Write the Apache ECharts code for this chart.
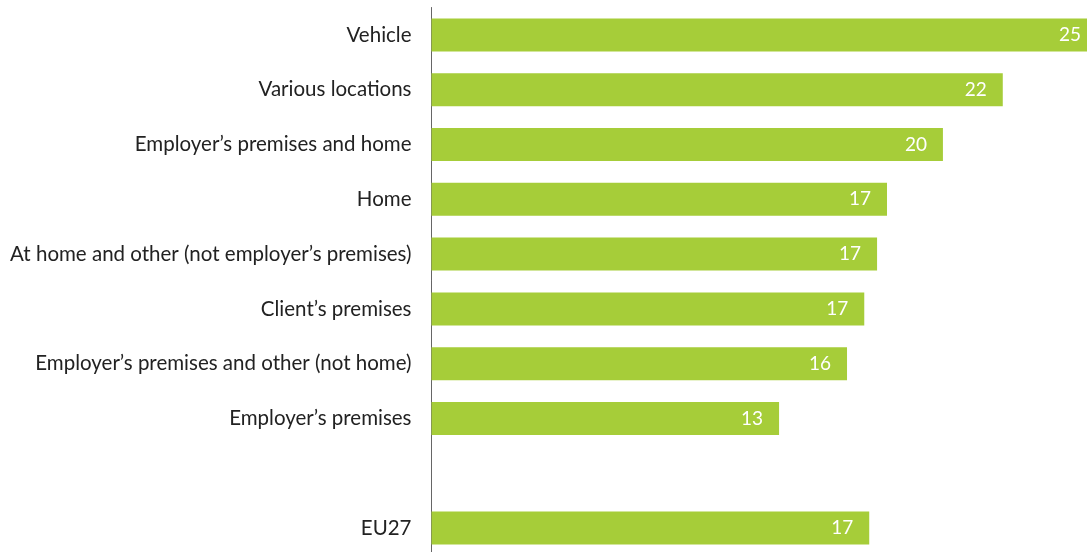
<!DOCTYPE html>
<html>
<head>
<meta charset="utf-8">
<script src="https://cdn.jsdelivr.net/npm/echarts@6/dist/echarts.min.js"></script>
<style>html,body{margin:0;padding:0;background:#fff;}#c{width:1087px;height:552px;}</style>
</head>
<body>
<div id="c"></div>
<script>
const categories = ["Vehicle", "Various locations", "Employer\u2019s premises and home", "Home", "At home and other (not employer\u2019s premises)", "Client\u2019s premises", "Employer\u2019s premises and other (not home)", "Employer\u2019s premises", "", "EU27"];
const values = [25.47, 21.86, 19.57, 17.43, 17.05, 16.56, 15.90, 13.30, null, 16.75];

const chart = echarts.init(document.getElementById('c'));
chart.setOption({
  animation: false,
  grid: { left: 431.5, top: 7.5, width: 784, height: 548, containLabel: false, outerBoundsMode: 'none' },
  xAxis: { type: 'value', min: 0, max: 30, show: false },
  yAxis: {
    type: 'category', data: categories, inverse: true,
    axisLine: { show: true, lineStyle: { color: '#666', width: 1 } },
    axisTick: { show: false },
    axisLabel: { color: '#222', fontSize: 20.5, fontFamily: 'Lato', margin: 20 }
  },
  series: [{
    type: 'bar', data: values, barWidth: 33,
    itemStyle: { color: '#a6cd39' },
    label: {
      show: true, position: 'insideRight', distance: 16,
      color: '#fff', fontSize: 19, fontFamily: 'Lato',
      formatter: p => p.value == null ? '' : Math.round(p.value)
    }
  }]
});
</script>
</body>
</html>
